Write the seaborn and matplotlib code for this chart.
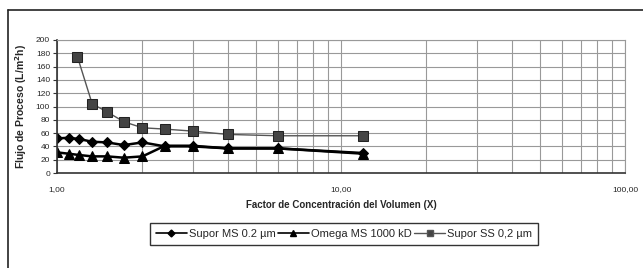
import matplotlib
matplotlib.use("Agg")
import matplotlib.pyplot as plt
import matplotlib.ticker as mticker
from matplotlib.lines import Line2D
import pandas as pd
import seaborn as sns

# data
x_supor_ms = [1.0, 1.1, 1.2, 1.33, 1.5, 1.72, 2.0, 2.4, 3.0, 4.0, 6.0, 12.0]
y_supor_ms = [52, 53, 51, 47, 46, 42, 46, 40, 40, 37, 37, 30]
x_omega = [1.0, 1.1, 1.2, 1.33, 1.5, 1.72, 2.0, 2.4, 3.0, 4.0, 6.0, 12.0]
y_omega = [31, 29, 27, 25, 25, 23, 25, 41, 41, 37, 37, 29]
x_supor_ss = [1.18, 1.33, 1.5, 1.72, 2.0, 2.4, 3.0, 4.0, 6.0, 12.0]
y_supor_ss = [175, 104, 92, 77, 68, 66, 63, 58, 56, 56]

labels = ["Supor MS 0.2 \u00b5m", "Omega MS 1000 kD", "Supor SS 0,2 \u00b5m"]
y_ticks = list(range(0, 201, 20))


def main():
    sns.set_theme(style="white")
    plt.rcParams["font.family"] = ["Liberation Sans", "DejaVu Sans"]

    fig = plt.figure(figsize=(6.43, 2.68), dpi=100)
    ax = fig.add_axes([57 / 643, 1 - 173 / 268, (625 - 57) / 643, (173 - 40) / 268])

    df1 = pd.DataFrame({"x": x_supor_ms, "y": y_supor_ms})
    df2 = pd.DataFrame({"x": x_omega, "y": y_omega})
    df3 = pd.DataFrame({"x": x_supor_ss, "y": y_supor_ss})

    sns.lineplot(data=df1, x="x", y="y", ax=ax, color="black", lw=1.8,
                 marker="D", markersize=5.5, markeredgecolor="black", sort=False)
    sns.lineplot(data=df2, x="x", y="y", ax=ax, color="black", lw=1.8,
                 marker="^", markersize=7, markeredgecolor="black", sort=False)
    sns.lineplot(data=df3, x="x", y="y", ax=ax, color="#555555", lw=1.0,
                 marker="s", markersize=7, markerfacecolor="#444444",
                 markeredgecolor="#222222", sort=False)

    ax.set_xscale("log")
    ax.set_xlim(1, 100)
    ax.set_ylim(0, 200)
    ax.set_yticks(y_ticks)
    ax.set_xticks([1, 10, 100])
    ax.xaxis.set_major_formatter(mticker.FuncFormatter(
        lambda v, p: f"{v:.2f}".replace(".", ",")))
    ax.xaxis.set_minor_locator(mticker.LogLocator(base=10, subs=range(2, 10)))
    ax.xaxis.set_minor_formatter(mticker.NullFormatter())

    ax.grid(True, which="both", axis="x", color="#999999", lw=0.8)
    ax.grid(True, which="major", axis="y", color="#999999", lw=0.8)
    ax.set_axisbelow(True)

    for side in ["top", "right"]:
        ax.spines[side].set_color("#999999")
        ax.spines[side].set_linewidth(0.8)
    for side in ["left", "bottom"]:
        ax.spines[side].set_color("#333333")
        ax.spines[side].set_linewidth(1.2)

    ax.tick_params(axis="y", which="major", left=True, length=3, width=0.8,
                   labelsize=6, pad=2, color="#333333")
    ax.tick_params(axis="x", which="both", bottom=False, labelsize=6, pad=3.5)

    ax.set_xlabel("Factor de Concentraci\u00f3n del Volumen (X)", fontsize=7,
                  fontweight="bold", labelpad=5)
    ax.set_ylabel("Flujo de Proceso (L/m$^{\\mathbf{2}}$h)", fontsize=7.5,
                  fontweight="bold", labelpad=5)

    handles = [
        Line2D([], [], color="black", lw=1.2, marker="D", markersize=3.5),
        Line2D([], [], color="black", lw=1.2, marker="^", markersize=5),
        Line2D([], [], color="#555555", lw=1.0, marker="s", markersize=4.5,
               markerfacecolor="#444444"),
    ]
    fig.legend(handles, labels, loc="center", bbox_to_anchor=(344 / 643, 1 - 234 / 268),
               ncol=3, fontsize=8, frameon=True, fancybox=False, edgecolor="#333333",
               handlelength=2.8, handletextpad=0.2, columnspacing=0.2,
               borderpad=0.5, framealpha=1)

    # outer frame: top and left lines
    fig.add_artist(Line2D([8 / 643, 1], [1 - 10 / 268, 1 - 10 / 268],
                          transform=fig.transFigure, color="#222222", lw=1.2))
    fig.add_artist(Line2D([8 / 643, 8 / 643], [0, 1 - 10 / 268],
                          transform=fig.transFigure, color="#222222", lw=1.2))

    fig.savefig("out.png", dpi=100)
    plt.close(fig)


if __name__ == "__main__":
    main()
